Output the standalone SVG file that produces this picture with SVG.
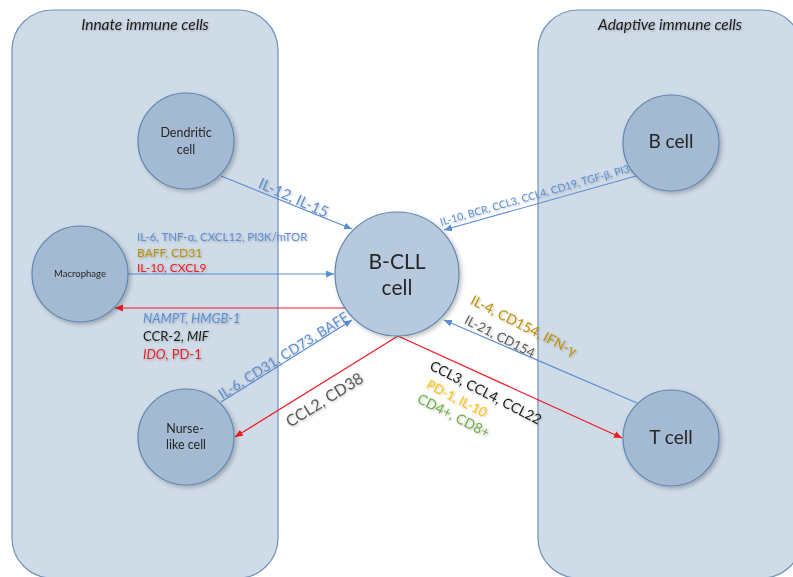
<svg xmlns="http://www.w3.org/2000/svg" width="793" height="577" viewBox="0 0 793 577">
<defs>
<style>
.panel{fill:#cfdbe7;stroke:#6f93b9;stroke-width:1.2}
.node{fill:#a3bad2;stroke:#5f86b0;stroke-width:1.2;filter:url(#sh)}
.main{fill:#b6c9dd}
.t{font-family:Lato,"Liberation Sans",sans-serif}
.title{font-size:15.5px;font-style:italic;fill:#1a1a1a;text-anchor:middle;filter:url(#tsh)}
.nl{fill:#262626;text-anchor:middle}
.lab{filter:url(#tsh)}
.c{text-anchor:middle;dominant-baseline:central}
.blue{fill:#5b8fd3}
.gold{fill:#bf9000}
.red{fill:#ee1c24}
.blk{fill:#1a1a1a}
.gray{fill:#5a5a5a}
.org{fill:#ffc000}
.grn{fill:#70ad47}
.it{font-style:italic}
.lb{stroke:#5b8fd3;stroke-width:1.2;fill:none;marker-end:url(#ab)}
.lr{stroke:#ee1c24;stroke-width:1.2;fill:none;marker-end:url(#ar)}
</style>
<marker id="ab" markerUnits="userSpaceOnUse" markerWidth="10" markerHeight="8" refX="8" refY="4" orient="auto"><path d="M0,0.5 L8,4 L0,7.5 Z" fill="#5b8fd3"/></marker>
<marker id="ar" markerUnits="userSpaceOnUse" markerWidth="10" markerHeight="8" refX="8" refY="4" orient="auto"><path d="M0,0.5 L8,4 L0,7.5 Z" fill="#ee1c24"/></marker>
<filter id="sh" x="-20%" y="-20%" width="150%" height="150%"><feDropShadow dx="2" dy="2" stdDeviation="2" flood-color="#000" flood-opacity="0.25"/></filter>
<filter id="tsh" x="-10%" y="-30%" width="120%" height="160%"><feDropShadow dx="1" dy="1" stdDeviation="0.8" flood-color="#000" flood-opacity="0.25"/></filter>
</defs>

<g id="panel-innate">
<rect class="panel" x="12" y="10" width="266" height="568" rx="40" ry="40"/>
<text class="t title" x="145" y="30">Innate immune cells</text>
</g>
<g id="panel-adaptive">
<rect class="panel" x="538" y="10" width="264" height="568" rx="40" ry="40"/>
<text class="t title" x="670" y="30">Adaptive immune cells</text>
</g>

<g id="connectors">
<line class="lb" x1="221" y1="176" x2="352" y2="229"/>
<line class="lb" x1="128" y1="274" x2="334" y2="274"/>
<line class="lr" x1="346" y1="308" x2="115" y2="308"/>
<line class="lb" x1="221" y1="402" x2="352" y2="320"/>
<line class="lr" x1="398" y1="336" x2="235" y2="437"/>
<line class="lb" x1="636" y1="176" x2="444" y2="230"/>
<line class="lb" x1="637" y1="403" x2="444" y2="320"/>
<line class="lr" x1="398" y1="336" x2="622" y2="438"/>

<g class="t lab">
<text class="c blue" font-size="15" transform="translate(294,197) rotate(24)">IL-12, IL-15</text>
<text class="blue" font-size="11.5" x="137" y="241">IL-6, TNF-α, CXCL12, PI3K/mTOR</text>
<text class="gold" font-size="12" x="137" y="257">BAFF, CD31</text>
<text class="red" font-size="12" x="137" y="272">IL-10, CXCL9</text>
<text class="blue it" font-size="13" x="143" y="323">NAMPT, HMGB-1</text>
<text class="blk" font-size="13" x="143" y="341">CCR-2, <tspan class="it">MIF</tspan></text>
<text class="red" font-size="13" x="143" y="359"><tspan class="it">IDO</tspan>, PD-1</text>
<text class="c blue" font-size="14" transform="translate(283,355) rotate(-32)">IL-6, CD31, CD73, BAFF</text>
<text class="c gray" font-size="16" transform="translate(324,399) rotate(-32)">CCL2, CD38</text>
<text class="c blue" font-size="10.5" transform="translate(538,194) rotate(-16)">IL-10, BCR, CCL3, CCL4, CD19, TGF-β, PI3K</text>
<text class="c gold" font-size="14" transform="translate(524,325) rotate(27)">IL-4, CD154, IFN-γ</text>
<text class="c gray" font-size="13" transform="translate(500,336) rotate(27)">IL-21, CD154</text>
<text class="c blk" font-size="14" transform="translate(486,392) rotate(27)">CCL3, CCL4, CCL22</text>
<text class="c org" font-size="13" transform="translate(457,398) rotate(27)">PD-1, IL-10</text>
<text class="c grn" font-size="14" transform="translate(454,415) rotate(27)">CD4+, CD8+</text>
</g>
</g>

<g id="node-dendritic">
<circle class="node" cx="186" cy="141" r="48"/>
<text class="t nl" font-size="12.5" x="186" y="137">Dendritic</text>
<text class="t nl" font-size="12.5" x="186" y="154">cell</text>
</g>
<g id="node-macrophage">
<circle class="node" cx="80" cy="274" r="48"/>
<text class="t nl" font-size="9.5" x="80" y="277">Macrophage</text>
</g>
<g id="node-nurse">
<circle class="node" cx="186" cy="437" r="48"/>
<text class="t nl" font-size="12.5" x="185" y="433">Nurse-</text>
<text class="t nl" font-size="12.5" x="186" y="449">like cell</text>
</g>
<g id="node-bcll">
<circle class="node main" cx="397" cy="274" r="62"/>
<text class="t nl" font-size="21" x="397" y="269">B-CLL</text>
<text class="t nl" font-size="21" x="397" y="295">cell</text>
</g>
<g id="node-bcell">
<circle class="node" cx="671" cy="143" r="48"/>
<text class="t nl" font-size="19" x="671" y="148">B cell</text>
</g>
<g id="node-tcell">
<circle class="node" cx="671" cy="438" r="48"/>
<text class="t nl" font-size="19" x="671" y="444">T cell</text>
</g>
</svg>
